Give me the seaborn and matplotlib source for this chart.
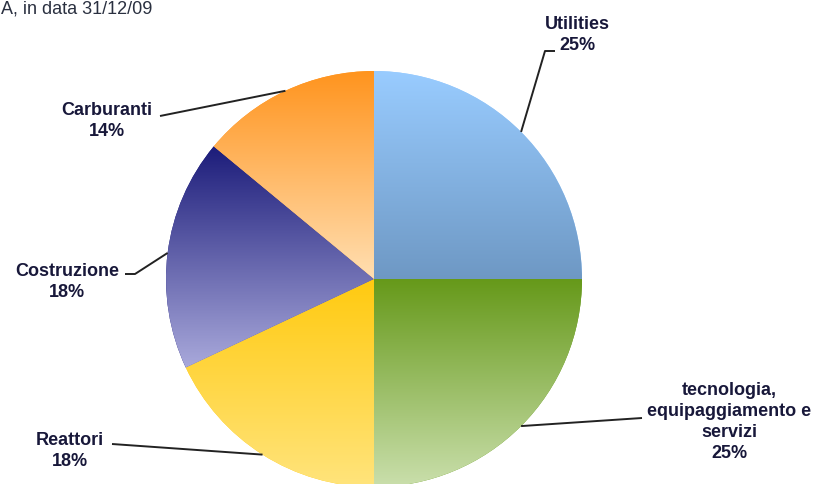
import numpy as np
import matplotlib
matplotlib.use("Agg")
import matplotlib.pyplot as plt
import seaborn as sns

# Data (clockwise from the top)
sectors = ["Utilities", "tecnologia,\nequipaggiamento e\nservizi", "Reattori", "Costruzione", "Carburanti"]
shares = [25, 25, 18, 18, 14]
top_colors = ["#99CCFF", "#66991A", "#FFCA10", "#1C1C7A", "#FF941E"]
bottom_colors = ["#6E98C4", "#CADFAC", "#FFE47C", "#A9A9DB", "#FFDFB2"]
title_text = "A, in data 31/12/09"

W, H = 819, 484
CX, CY, R = 374, 279, 208   # pie centre / radius in pixels (y down)


def px(x, y):
    # pixel coords (y down) -> data coords (y up)
    return x, H - y


def main():
    sns.set_theme(style="white")
    plt.rcParams["font.family"] = ["Liberation Sans", "DejaVu Sans"]

    fig = plt.figure(figsize=(W / 100, H / 100), dpi=100)
    ax = fig.add_axes([0, 0, 1, 1])

    wedges, _ = ax.pie(
        shares,
        startangle=90,
        counterclock=False,
        radius=R,
        center=px(CX, CY),
        wedgeprops=dict(linewidth=0),
    )

    # vertical gradient fill for every slice
    grad = np.linspace(0, 1, 256).reshape(-1, 1)
    for w, c_top, c_bot in zip(wedges, top_colors, bottom_colors):
        t1, t2 = np.radians(w.theta1), np.radians(w.theta2)
        th = np.linspace(t1, t2, 200)
        ys = np.concatenate([[0], R * np.sin(th)]) + (H - CY)
        cmap = sns.blend_palette([c_top, c_bot], n_colors=256, as_cmap=True)
        w.set_facecolor(c_top)
        im = ax.imshow(grad, cmap=cmap, origin="upper", aspect="auto",
                       extent=[CX - R, CX + R, ys.min(), ys.max()], zorder=2)
        im.set_clip_path(w)

    # label layout: text centre, line end, optional elbow (pixels)
    label_pos = [(577, 35), (729, 422), (70, 451), (67, 282), (107, 121)]
    line_end = [(555, 51), (642, 418), (112, 444), (125, 274), (160, 116)]
    elbow = [(545, 51), None, None, (135, 274), None]

    for w, name, val, lp, le, eb in zip(wedges, sectors, shares, label_pos, line_end, elbow):
        mid = np.radians((w.theta1 + w.theta2) / 2)
        ax_x = CX + R * np.cos(mid)
        ax_y = (H - CY) + R * np.sin(mid)
        pts = [(ax_x, ax_y)]
        if eb is not None:
            pts.append(px(*eb))
        pts.append(px(*le))
        xs, ys = zip(*pts)
        ax.plot(xs, ys, color="#222222", lw=1.4, zorder=3, solid_capstyle="butt")
        ax.text(*px(*lp), f"{name}\n{val}%", ha="center", va="center",
                fontsize=13, fontweight="bold", color="#18183a",
                linespacing=1.3, zorder=4)

    ax.text(*px(152, 9), title_text, ha="right", va="center",
            fontsize=13, color="#2a3040")

    ax.set_xlim(0, W)
    ax.set_ylim(0, H)
    ax.set_aspect("auto")
    ax.axis("off")

    plt.savefig("out.png", dpi=100)


if __name__ == "__main__":
    main()
